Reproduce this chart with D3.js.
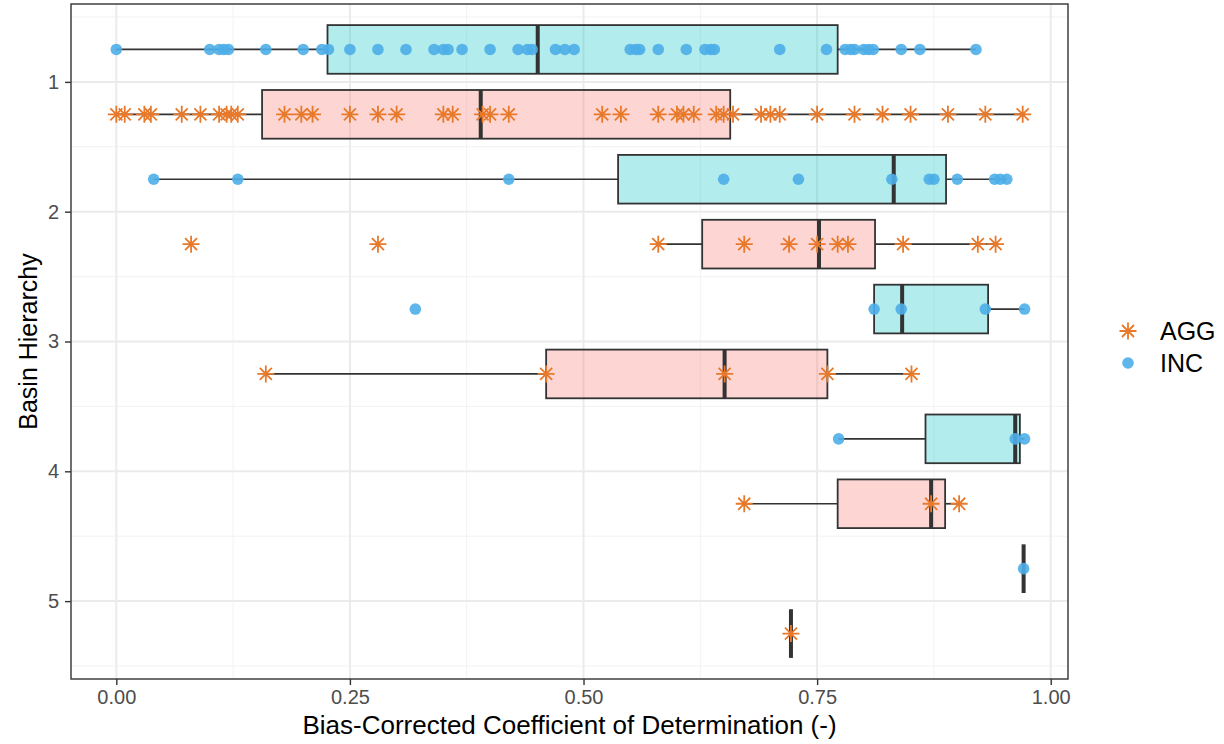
<!DOCTYPE html>
<html>
<head>
<meta charset="utf-8">
<script src="https://cdn.jsdelivr.net/npm/d3@7"></script>
<style>
  body { margin: 0; background: #fff; }
  svg { display: block; font-family: "Liberation Sans", Arial, sans-serif; }
</style>
</head>
<body>
<div id="chart"></div>
<script>
// basin hierarchy levels, and the two model groups
const hierarchy = [1, 2, 3, 4, 5];
const groups = ["AGG", "INC"];

// individual scores per hierarchy level
const incValues = [
  [0.00, 0.10, 0.11, 0.115, 0.12, 0.16, 0.20, 0.22, 0.227, 0.25, 0.28, 0.31, 0.34, 0.35, 0.355, 0.37, 0.40, 0.43, 0.44, 0.445,
   0.47, 0.48, 0.49, 0.55, 0.556, 0.56, 0.58, 0.61, 0.63, 0.636, 0.64, 0.71, 0.76, 0.78, 0.786, 0.79, 0.80, 0.805, 0.81, 0.84, 0.86, 0.92],
  [0.04, 0.13, 0.42, 0.65, 0.73, 0.83, 0.87, 0.875, 0.90, 0.94, 0.946, 0.953],
  [0.32, 0.811, 0.84, 0.93, 0.972],
  [0.773, 0.962, 0.972],
  [0.971]
];
const aggValues = [
  [0.00, 0.009, 0.03, 0.037, 0.07, 0.09, 0.11, 0.118, 0.123, 0.13, 0.18, 0.198, 0.21, 0.25, 0.28, 0.30, 0.35, 0.36, 0.392, 0.40,
   0.42, 0.52, 0.54, 0.58, 0.60, 0.607, 0.618, 0.642, 0.65, 0.66, 0.69, 0.70, 0.71, 0.75, 0.79, 0.82, 0.85, 0.89, 0.93, 0.97],
  [0.08, 0.28, 0.58, 0.672, 0.72, 0.75, 0.772, 0.783, 0.842, 0.922, 0.941],
  [0.16, 0.46, 0.651, 0.761, 0.851],
  [0.672, 0.872, 0.902],
  [0.722]
];

// box stats: [lower whisker, q1, median, q3, upper whisker]
const incBoxes = [
  [0.00, 0.226, 0.451, 0.772, 0.92],
  [0.04, 0.537, 0.832, 0.888, 0.953],
  [0.811, 0.811, 0.841, 0.933, 0.972],
  [0.773, 0.866, 0.962, 0.967, 0.972],
  [0.971, 0.971, 0.971, 0.971, 0.971]
];
const aggBoxes = [
  [0.00, 0.156, 0.39, 0.657, 0.97],
  [0.58, 0.627, 0.752, 0.812, 0.941],
  [0.16, 0.46, 0.651, 0.761, 0.851],
  [0.672, 0.772, 0.872, 0.887, 0.902],
  [0.722, 0.722, 0.722, 0.722, 0.722]
];

const xTicks = [0, 0.25, 0.5, 0.75, 1];
const xTickLabels = ["0.00", "0.25", "0.50", "0.75", "1.00"];
const xMinor = [0.125, 0.375, 0.625, 0.875];
const yTicks = [1, 2, 3, 4, 5];
const yTickLabels = ["1", "2", "3", "4", "5"];
const yMinor = [0.5, 1.5, 2.5, 3.5, 4.5, 5.5];

const W = 1224, H = 744;
const panel = { left: 71, right: 1068, top: 4, bottom: 679 };

const fillColor = { AGG: "#F8766D", INC: "#00BFC4" };
const pointColor = { AGG: "#E8792B", INC: "#4DAEE8" };
const dodge = { INC: -0.25, AGG: 0.25 };
const boxHalf = 0.1875;

const x = d3.scaleLinear().domain([-0.0485, 1.0185]).range([panel.left, panel.right]);
const y = d3.scaleLinear().domain([0.4, 5.6]).range([panel.top, panel.bottom]);

const svg = d3.select("#chart").append("svg").attr("width", W).attr("height", H);

// grid
const grid = svg.append("g");
grid.selectAll(".xminor").data(xMinor).enter().append("line")
  .attr("x1", d => x(d)).attr("x2", d => x(d)).attr("y1", panel.top).attr("y2", panel.bottom)
  .attr("stroke", "#F2F2F2").attr("stroke-width", 1);
grid.selectAll(".yminor").data(yMinor).enter().append("line")
  .attr("y1", d => y(d)).attr("y2", d => y(d)).attr("x1", panel.left).attr("x2", panel.right)
  .attr("stroke", "#F2F2F2").attr("stroke-width", 1);
grid.selectAll(".xmajor").data(xTicks).enter().append("line")
  .attr("x1", d => x(d)).attr("x2", d => x(d)).attr("y1", panel.top).attr("y2", panel.bottom)
  .attr("stroke", "#EBEBEB").attr("stroke-width", 2);
grid.selectAll(".ymajor").data(yTicks).enter().append("line")
  .attr("y1", d => y(d)).attr("y2", d => y(d)).attr("x1", panel.left).attr("x2", panel.right)
  .attr("stroke", "#EBEBEB").attr("stroke-width", 2);

// boxes
const boxRows = [];
hierarchy.forEach((h, i) => {
  boxRows.push({ group: "INC", h, s: incBoxes[i] });
  boxRows.push({ group: "AGG", h, s: aggBoxes[i] });
});

const boxG = svg.append("g");
boxRows.forEach(b => {
  const yc = b.h + dodge[b.group];
  const g = boxG.append("g");
  const [lo, q1, med, q3, hi] = b.s;
  g.append("line").attr("x1", x(lo)).attr("x2", x(q1)).attr("y1", y(yc)).attr("y2", y(yc))
    .attr("stroke", "#333").attr("stroke-width", 1.7);
  g.append("line").attr("x1", x(q3)).attr("x2", x(hi)).attr("y1", y(yc)).attr("y2", y(yc))
    .attr("stroke", "#333").attr("stroke-width", 1.7);
  g.append("rect")
    .attr("x", x(q1)).attr("width", x(q3) - x(q1))
    .attr("y", y(yc - boxHalf)).attr("height", y(yc + boxHalf) - y(yc - boxHalf))
    .attr("fill", fillColor[b.group]).attr("fill-opacity", 0.3)
    .attr("stroke", "#333").attr("stroke-width", 1.8);
  g.append("line").attr("x1", x(med)).attr("x2", x(med))
    .attr("y1", y(yc - boxHalf)).attr("y2", y(yc + boxHalf))
    .attr("stroke", "#333").attr("stroke-width", 4);
});

// points
const star = r => {
  const d = r * Math.SQRT1_2;
  return `M${-r},0H${r}M0,${-r}V${r}M${-d},${-d}L${d},${d}M${-d},${d}L${d},${-d}`;
};

const pts = [];
hierarchy.forEach((h, i) => {
  incValues[i].forEach(v => pts.push({ group: "INC", h, v }));
  aggValues[i].forEach(v => pts.push({ group: "AGG", h, v }));
});

const ptG = svg.append("g");
ptG.selectAll("circle").data(pts.filter(p => p.group === "INC")).enter().append("circle")
  .attr("cx", d => x(d.v)).attr("cy", d => y(d.h + dodge.INC)).attr("r", 5.8)
  .attr("fill", pointColor.INC).attr("fill-opacity", 0.9);
ptG.selectAll("path").data(pts.filter(p => p.group === "AGG")).enter().append("path")
  .attr("transform", d => `translate(${x(d.v)},${y(d.h + dodge.AGG)})`)
  .attr("d", star(8.5)).attr("fill", "none")
  .attr("stroke", pointColor.AGG).attr("stroke-width", 1.8);

// panel border
svg.append("rect")
  .attr("x", panel.left).attr("y", panel.top)
  .attr("width", panel.right - panel.left).attr("height", panel.bottom - panel.top)
  .attr("fill", "none").attr("stroke", "#333").attr("stroke-width", 1.4);

// axes
const xAxis = svg.append("g").attr("transform", `translate(0,${panel.bottom})`)
  .call(d3.axisBottom(x).tickValues(xTicks).tickFormat((d, i) => xTickLabels[i]).tickSize(6).tickPadding(5));
const yAxis = svg.append("g").attr("transform", `translate(${panel.left},0)`)
  .call(d3.axisLeft(y).tickValues(yTicks).tickFormat((d, i) => yTickLabels[i]).tickSize(6).tickPadding(6));
[xAxis, yAxis].forEach(a => {
  a.select(".domain").remove();
  a.selectAll(".tick line").attr("stroke", "#333").attr("stroke-width", 1.4);
  a.selectAll(".tick text").attr("fill", "#4D4D4D").style("font-size", "20px")
    .style("font-family", "'Liberation Sans', Arial, sans-serif");
});

svg.append("text")
  .attr("x", (panel.left + panel.right) / 2).attr("y", 734)
  .attr("text-anchor", "middle").style("font-size", "26px")
  .text("Bias-Corrected Coefficient of Determination (-)");

svg.append("text")
  .attr("transform", `translate(37,${(panel.top + panel.bottom) / 2}) rotate(-90)`)
  .attr("text-anchor", "middle").style("font-size", "25px")
  .text("Basin Hierarchy");

// legend
const legend = svg.append("g").attr("transform", "translate(1128,0)");
const legendY = { AGG: 331, INC: 363 };
legend.append("path").attr("transform", `translate(0,${legendY.AGG})`)
  .attr("d", star(8.5)).attr("fill", "none").attr("stroke", pointColor.AGG).attr("stroke-width", 1.8);
legend.append("circle").attr("cx", 0).attr("cy", legendY.INC).attr("r", 5.8)
  .attr("fill", pointColor.INC).attr("fill-opacity", 0.9);
groups.forEach(gr => {
  legend.append("text").attr("x", 32).attr("y", legendY[gr]).attr("dy", "0.35em")
    .style("font-size", "25px").text(gr);
});
</script>
</body>
</html>
